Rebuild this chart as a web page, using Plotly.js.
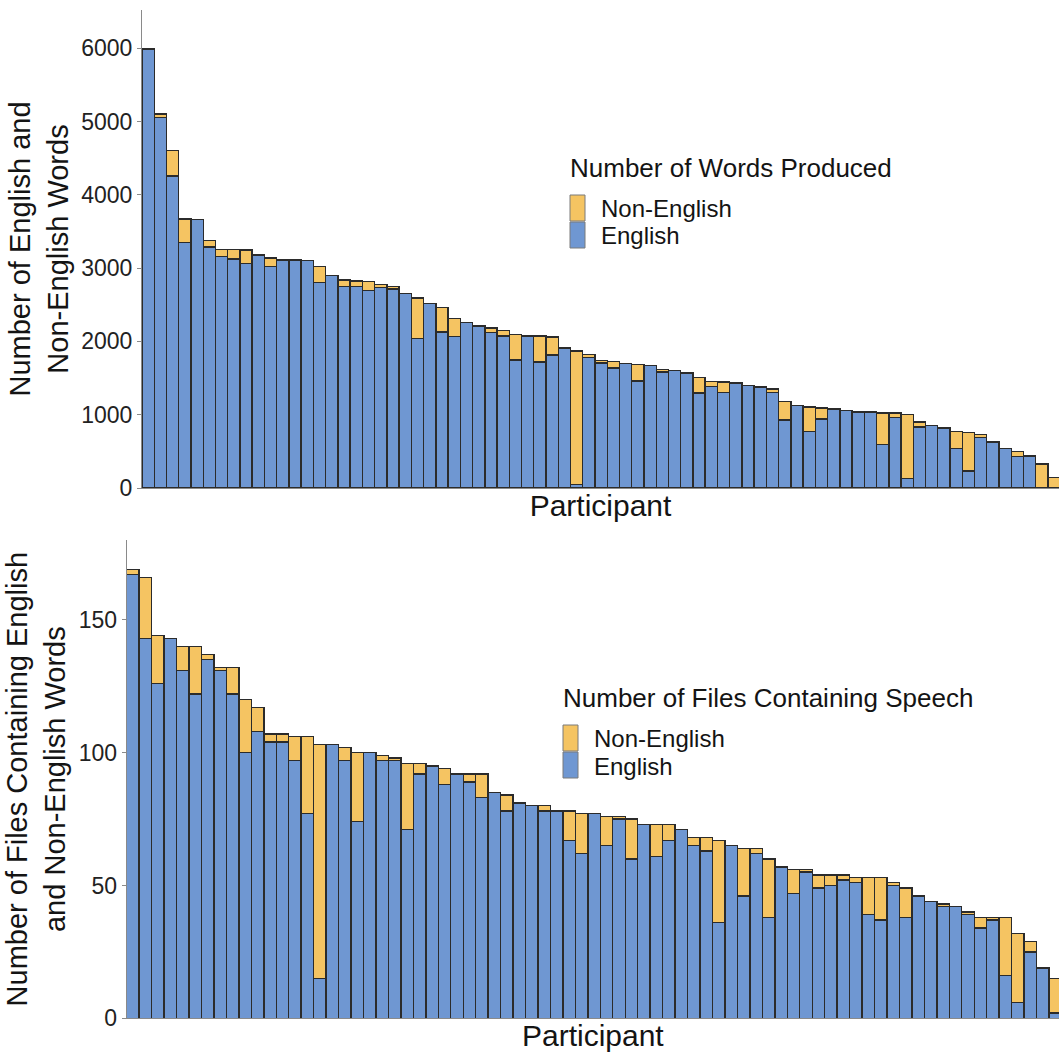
<!DOCTYPE html>
<html>
<head>
<meta charset="utf-8">
<script src="https://cdn.plot.ly/plotly-3.0.1.min.js"></script>
<style>html,body{margin:0;padding:0;background:#fff;}#chart{width:1059px;height:1059px;}</style>
</head>
<body>
<div id="chart"></div>
<script>
// Participants (sorted separately in each panel, as in the original figure)
const participants = ["P1","P2","P3","P4","P5","P6","P7","P8","P9","P10","P11","P12","P13","P14","P15","P16","P17","P18","P19","P20","P21","P22","P23","P24","P25","P26","P27","P28","P29","P30","P31","P32","P33","P34","P35","P36","P37","P38","P39","P40","P41","P42","P43","P44","P45","P46","P47","P48","P49","P50","P51","P52","P53","P54","P55","P56","P57","P58","P59","P60","P61","P62","P63","P64","P65","P66","P67","P68","P69","P70","P71","P72","P73","P74","P75"];

// Panel 1: number of words produced
const wordsEnglish = [5990,5055,4255,3345,3665,3290,3155,3125,3060,3180,3020,3100,3110,3105,2805,2900,2750,2750,2690,2735,2715,2655,2040,2520,2130,2070,2260,2210,2125,2075,1745,2070,1720,1815,1910,50,1780,1705,1635,1695,1460,1675,1580,1600,1570,1295,1385,1305,1435,1395,1380,1305,930,1125,770,940,1080,1060,1035,1035,590,965,130,830,850,820,535,230,685,625,535,430,435,0,0];
const wordsNonEnglish = [0,45,345,325,0,90,100,130,185,0,115,15,0,0,215,0,85,75,125,40,35,0,550,0,335,245,0,0,55,70,350,5,355,245,0,1820,45,35,90,0,225,0,35,0,0,215,70,140,0,0,0,45,250,0,335,150,0,0,10,0,435,60,875,70,0,0,235,525,45,0,0,70,0,330,140];

// Panel 2: number of files containing speech
const filesEnglish = [167,143,126,143,131,122,135,131,122,100,108,104,104,97,77,15,103,97,74,100,97,97,71,92,95,88,92,89,83,85,78,81,80,78,78,67,62,77,65,75,60,73,61,67,71,65,63,36,65,46,62,38,57,47,55,49,50,52,51,39,37,50,38,46,44,42,42,39,34,37,16,6,25,19,2];
const filesNonEnglish = [2,23,18,0,9,18,2,1,10,20,9,3,3,9,29,88,0,5,26,0,2,1,25,4,0,6,0,3,9,0,6,0,0,2,0,11,15,0,11,1,15,0,12,6,0,3,5,31,0,18,2,22,0,9,1,5,4,2,2,14,16,1,11,0,0,1,0,1,4,1,22,26,4,0,13];

const seriesNames = ["English","Non-English"];
const legendTitles = ["Number of Words Produced","Number of Files Containing Speech"];

const BLUE = "#6f97d2";
const ORANGE = "#f5c462";
const EDGE = "#2b2b2b";
const FONT = "Liberation Sans, Arial, sans-serif";
const TXT = "#141414";

function barTrace(y, name, color, xa, ya) {
  return {
    type: "bar", x: participants, y: y, name: name,
    xaxis: xa, yaxis: ya, showlegend: false,
    marker: {color: color, line: {color: EDGE, width: 1.4}},
    hoverinfo: "y+name"
  };
}

const traces = [
  barTrace(wordsEnglish, seriesNames[0], BLUE, "x", "y"),
  barTrace(wordsNonEnglish, seriesNames[1], ORANGE, "x", "y"),
  barTrace(filesEnglish, seriesNames[0], BLUE, "x2", "y2"),
  barTrace(filesNonEnglish, seriesNames[1], ORANGE, "x2", "y2")
];

const W = 1059, H = 1059;
const px = v => v / W;
const py = v => 1 - v / H;

const axisCommon = {
  showgrid: false, zeroline: false, showline: true, linecolor: "#8a8a8a", linewidth: 1,
  ticks: "outside", ticklen: 4, tickcolor: "#8a8a8a",
  tickfont: {family: FONT, size: 23, color: "#222"}
};
const xCommon = Object.assign({}, axisCommon, {
  type: "category", showticklabels: false, ticks: "", fixedrange: true
});

// Legend drawn as keys (shapes) + real-text annotations
function legendBlock(title, left, top) {
  const shapes = [
    {type: "rect", xref: "paper", yref: "paper", x0: px(left + 2), x1: px(left + 17), y0: py(top + 27), y1: py(top + 53),
     fillcolor: ORANGE, line: {color: "#7a7a7a", width: 1}},
    {type: "rect", xref: "paper", yref: "paper", x0: px(left + 2), x1: px(left + 17), y0: py(top + 54), y1: py(top + 80),
     fillcolor: BLUE, line: {color: "#7a7a7a", width: 1}}
  ];
  const ann = [
    {text: title, xref: "paper", yref: "paper", x: px(left), y: py(top), xanchor: "left", yanchor: "middle",
     showarrow: false, font: {family: FONT, size: 26, color: TXT}},
    {text: seriesNames[1], xref: "paper", yref: "paper", x: px(left + 31), y: py(top + 40), xanchor: "left", yanchor: "middle",
     showarrow: false, font: {family: FONT, size: 24, color: TXT}},
    {text: seriesNames[0], xref: "paper", yref: "paper", x: px(left + 31), y: py(top + 68), xanchor: "left", yanchor: "middle",
     showarrow: false, font: {family: FONT, size: 24, color: TXT}}
  ];
  return {shapes, ann};
}
const lg1 = legendBlock(legendTitles[0], 568, 168);
const lg2 = legendBlock(legendTitles[1], 561, 698);

const layout = {
  width: W, height: H,
  margin: {l: 0, r: 0, t: 0, b: 0},
  paper_bgcolor: "#fff", plot_bgcolor: "#fff",
  barmode: "stack", bargap: 0, showlegend: false,
  font: {family: FONT, color: TXT},
  xaxis: Object.assign({}, xCommon, {
    domain: [px(142), 1], anchor: "y", range: [-0.5, 74.4],
    title: {text: "Participant", font: {family: FONT, size: 30, color: TXT}, standoff: 6}
  }),
  yaxis: Object.assign({}, axisCommon, {
    domain: [py(488), py(10)], anchor: "x", range: [0, 6520],
    tickvals: [0, 1000, 2000, 3000, 4000, 5000, 6000],
    title: {text: "Number of English and<br>Non-English Words", font: {family: FONT, size: 29, color: TXT}, standoff: 4}
  }),
  xaxis2: Object.assign({}, xCommon, {
    domain: [px(126.7), 1], anchor: "y2", range: [-0.5, 74.3],
    title: {text: "Participant", font: {family: FONT, size: 30, color: TXT}, standoff: 6}
  }),
  yaxis2: Object.assign({}, axisCommon, {
    domain: [py(1018.3), py(540)], anchor: "x2", range: [0, 180],
    tickvals: [0, 50, 100, 150],
    title: {text: "Number of Files Containing English<br>and Non-English Words", font: {family: FONT, size: 29, color: TXT}, standoff: 4}
  }),
  shapes: lg1.shapes.concat(lg2.shapes),
  annotations: lg1.ann.concat(lg2.ann)
};

Plotly.newPlot("chart", traces, layout, {displayModeBar: false, staticPlot: true});
</script>
</body>
</html>
